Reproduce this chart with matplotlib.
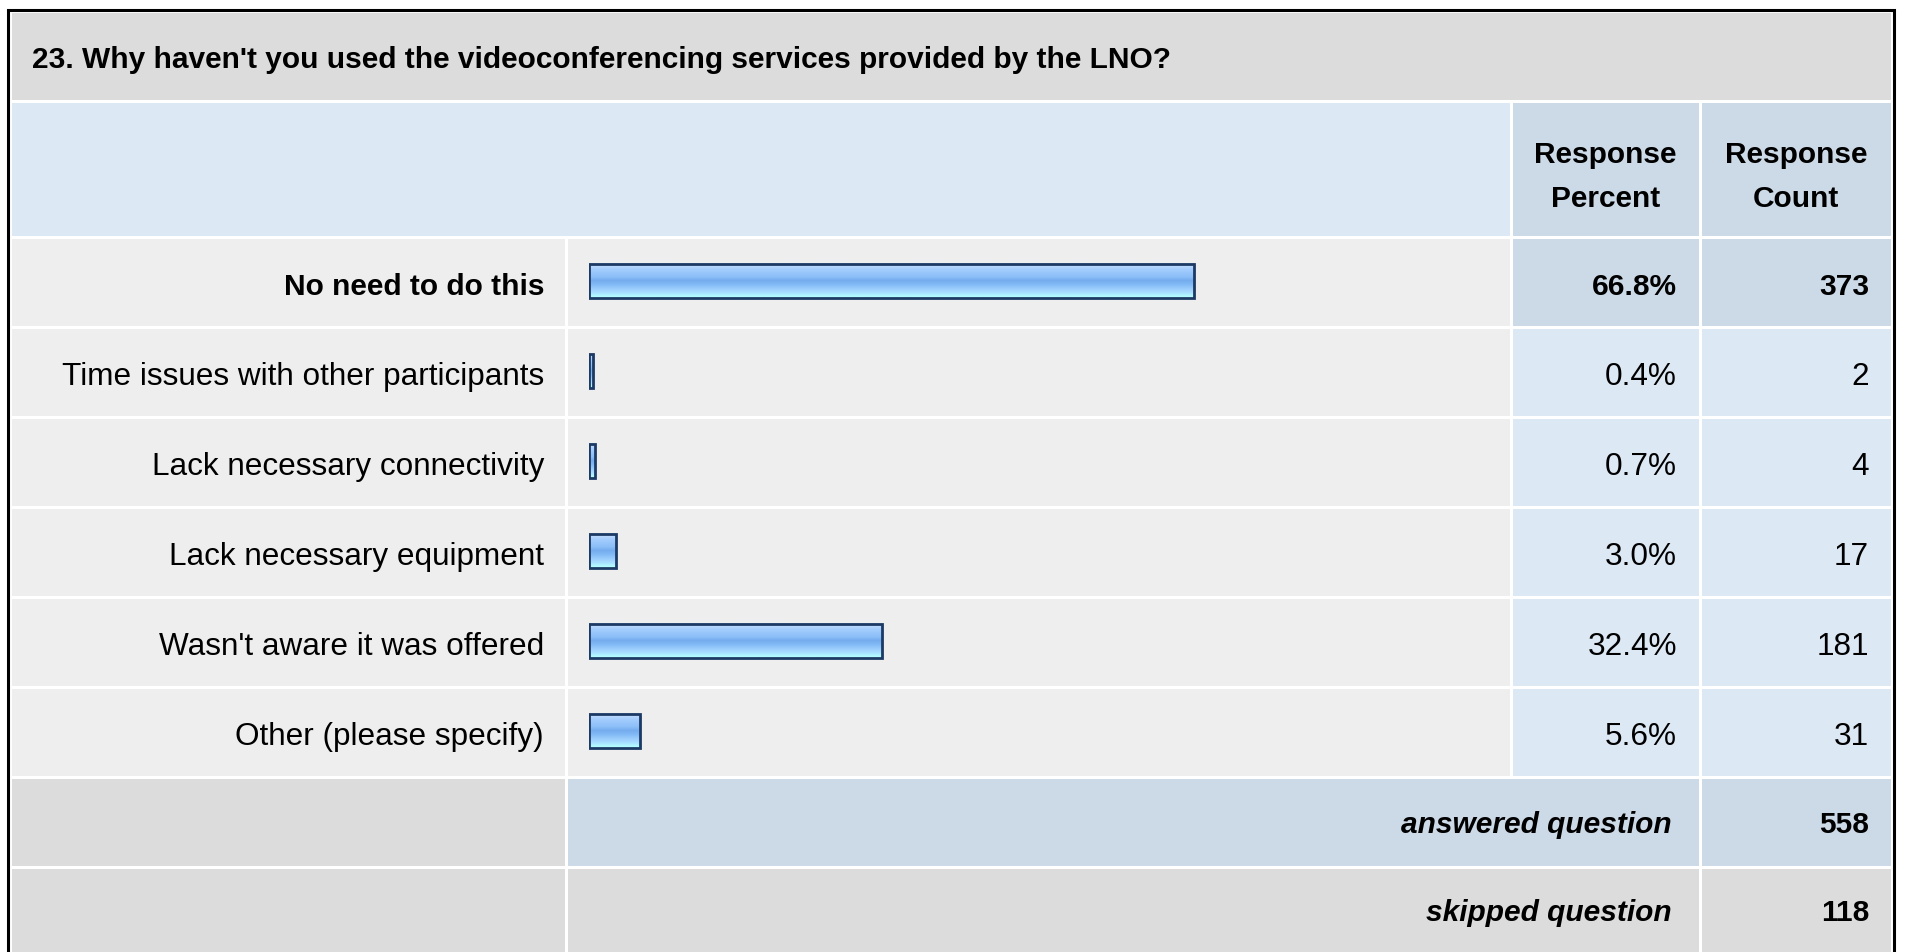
import numpy as np
import matplotlib
matplotlib.use("Agg")
import matplotlib.pyplot as plt
from matplotlib.patches import Rectangle
from matplotlib.colors import to_rgb

plt.rcParams["font.family"] = ["Liberation Sans", "DejaVu Sans"]

title = "23. Why haven't you used the videoconferencing services provided by the LNO?"
choices = ["No need to do this", "Time issues with other participants",
           "Lack necessary connectivity", "Lack necessary equipment",
           "Wasn't aware it was offered", "Other (please specify)"]
percent = [66.8, 0.4, 0.7, 3.0, 32.4, 5.6]
count = [373, 2, 4, 17, 181, 31]
answered = 558
skipped = 118

W, H = 1907, 952
fig = plt.figure(figsize=(W / 100, H / 100), dpi=100)
fig.patch.set_facecolor("white")
ax = fig.add_axes([0, 0, 1, 1])
ax.set_xlim(0, W)
ax.set_ylim(H, 0)
ax.axis("off")

# table layout (pixels)
cols = [10, 566, 1511, 1700, 1892]
rows = [11, 101, 237, 327, 417, 507, 597, 687, 777, 867, 957]
gap = 1.5
dy = 3  # text baseline nudge

grey = "#dcdcdc"
light = "#eeeeee"
blue1 = "#dde8f5"
blue2 = "#ccd9e7"


def cell(x0, x1, y0, y1, color):
    ax.add_patch(Rectangle((x0 + gap, y0 + gap), x1 - x0 - 2 * gap, y1 - y0 - 2 * gap,
                           facecolor=color, edgecolor="none", zorder=1))


fs = 22.7
fsb = 21.5

# title row
cell(cols[0], cols[4], rows[0], rows[1], grey)
ax.text(32, 57 + dy, title, fontsize=fsb, fontweight="bold", ha="left", va="center", zorder=3)

# header row
cell(cols[0], cols[2], rows[1], rows[2], blue1)
cell(cols[2], cols[3], rows[1], rows[2], blue2)
cell(cols[3], cols[4], rows[1], rows[2], blue2)
for cx, word in [((cols[2] + cols[3]) / 2, "Percent"), ((cols[3] + cols[4]) / 2, "Count")]:
    ax.text(cx, 152 + dy, "Response", fontsize=fsb, fontweight="bold", ha="center", va="center", zorder=3)
    ax.text(cx, 196 + dy, word, fontsize=fsb, fontweight="bold", ha="center", va="center", zorder=3)

# data rows
top_i = int(np.argmax(count))
for i, (lab, p, c) in enumerate(zip(choices, percent, count)):
    y0, y1 = rows[2 + i], rows[3 + i]
    yc = (y0 + y1) / 2 + 2 + dy
    side = blue2 if i == top_i else blue1
    cell(cols[0], cols[1], y0, y1, light)
    cell(cols[1], cols[2], y0, y1, light)
    cell(cols[2], cols[3], y0, y1, side)
    cell(cols[3], cols[4], y0, y1, side)
    wt = "bold" if i == top_i else "normal"
    f = fsb if i == top_i else fs
    ax.text(544, yc, lab, fontsize=f, fontweight=wt, ha="right", va="center", zorder=3)
    ax.text(1677, yc, f"{p:.1f}%", fontsize=f, fontweight=wt, ha="right", va="center", zorder=3)
    ax.text(1869, yc, str(c), fontsize=f, fontweight=wt, ha="right", va="center", zorder=3)

# answered / skipped rows
y0, y1 = rows[8], rows[9]
cell(cols[0], cols[1], y0, y1, grey)
cell(cols[1], cols[3], y0, y1, blue2)
cell(cols[3], cols[4], y0, y1, blue2)
ax.text(1672, (y0 + y1) / 2 + dy, "answered question", fontsize=fsb, fontweight="bold",
        style="italic", ha="right", va="center", zorder=3)
ax.text(1869, (y0 + y1) / 2 + dy, str(answered), fontsize=fsb, fontweight="bold",
        ha="right", va="center", zorder=3)
y0, y1 = rows[9], rows[10]
cell(cols[0], cols[1], y0, y1, grey)
cell(cols[1], cols[3], y0, y1, grey)
cell(cols[3], cols[4], y0, y1, grey)
ax.text(1672, (y0 + y1) / 2 + dy - 2, "skipped question", fontsize=fsb, fontweight="bold",
        style="italic", ha="right", va="center", zorder=3)
ax.text(1869, (y0 + y1) / 2 + dy - 2, str(skipped), fontsize=fsb, fontweight="bold",
        ha="right", va="center", zorder=3)

# outer border
ax.plot([7.5, 7.5, 1893.5, 1893.5], [H + 5, 9.5, 9.5, H + 5], color="black",
        linewidth=2.2, solid_joinstyle="miter", zorder=4)

# bars
bx = fig.add_axes([589 / W, (H - rows[8] + 1) / H, 905 / W, (rows[8] - rows[2]) / H])
bx.axis("off")
stripes = ["#c2dcfd", "#a6cefd", "#98c6fb", "#8cbff8", "#74acee", "#82baf5",
           "#98cbfc", "#a8dcff", "#b2fbff"]
grad = np.array([to_rgb(s) for s in stripes])[:, None, :]
bh = 0.38
for i, p in enumerate(percent):
    bx.imshow(grad, extent=(0, p, i + bh / 2, i - bh / 2), aspect="auto",
              interpolation="bilinear", zorder=1)
bx.barh(range(len(percent)), percent, height=bh, facecolor="none",
        edgecolor="#1c3a64", linewidth=2.0, zorder=2)
bx.set_xlim(0, 100)
bx.set_ylim(len(percent) - 0.5, -0.5)

fig.savefig("out.png", dpi=100)
